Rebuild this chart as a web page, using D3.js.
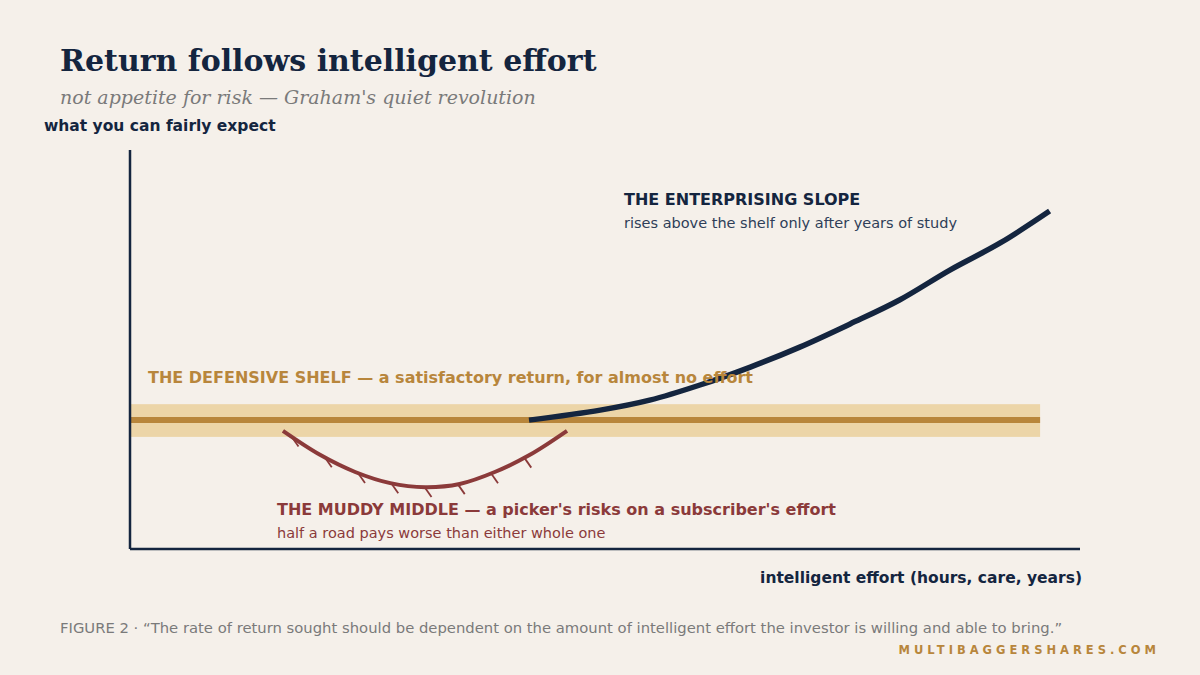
<!DOCTYPE html>
<html><head><meta charset="utf-8">
<script src="https://cdn.jsdelivr.net/npm/d3@7"></script>
<style>body{margin:0;background:#f5f0ea}</style>
</head><body>
<svg id="chart" width="1200" height="675"></svg>
<script>
// data (x: effort 0..10, y: return 0..10)
var shelfLevel = 3.23;
var shelfBand = [2.81, 3.63];
var shelfEnd = 9.58;
var muddyX = [1.61, 2.0, 2.37, 2.74, 3.11, 3.47, 3.84, 4.21, 4.6];
var muddyY = [2.96, 2.36, 1.93, 1.65, 1.55, 1.63, 1.93, 2.36, 2.96];
var slopeX = [4.2, 4.95, 5.47, 6.0, 6.53, 7.05, 7.58, 8.1, 8.63, 9.16, 9.68];
var slopeY = [3.23, 3.48, 3.73, 4.11, 4.56, 5.06, 5.64, 6.24, 6.99, 7.67, 8.47];
var hatchX = [1.7, 2.05, 2.4, 2.75, 3.1, 3.45, 3.8, 4.15];

var svg = d3.select("#chart");
var x = d3.scaleLinear().domain([0, 10]).range([130, 1080]);
var y = d3.scaleLinear().domain([0, 10]).range([549, 150]);
var sans = "DejaVu Sans", serif = "DejaVu Serif";

svg.append("rect").attr("width", 1200).attr("height", 675).attr("fill", "#f5f0ea");

svg.append("text").attr("x", 60).attr("y", 71).attr("font-family", serif).attr("font-weight", "bold")
	.attr("font-size", 30).attr("fill", "#14253f").text("Return follows intelligent effort");
svg.append("text").attr("x", 60).attr("y", 104).attr("font-family", serif).attr("font-style", "italic")
	.attr("font-size", 19).attr("fill", "#7a7a7a").text("not appetite for risk \u2014 Graham's quiet revolution");
svg.append("text").attr("x", 44).attr("y", 131).attr("font-family", sans).attr("font-weight", "bold")
	.attr("font-size", 15.5).attr("fill", "#14253f").text("what you can fairly expect");

// shelf
svg.append("rect").attr("x", x(0)).attr("width", x(shelfEnd) - x(0))
	.attr("y", y(shelfBand[1])).attr("height", y(shelfBand[0]) - y(shelfBand[1])).attr("fill", "#ecd5a8");
svg.append("line").attr("x1", x(0)).attr("x2", x(shelfEnd)).attr("y1", y(shelfLevel)).attr("y2", y(shelfLevel))
	.attr("stroke", "#b8863c").attr("stroke-width", 6);

// axes
svg.append("line").attr("x1", x(0)).attr("x2", x(0)).attr("y1", y(10)).attr("y2", y(0)).attr("stroke", "#14253f").attr("stroke-width", 2.5);
svg.append("line").attr("x1", x(0)).attr("x2", x(10)).attr("y1", y(0)).attr("y2", y(0)).attr("stroke", "#14253f").attr("stroke-width", 2.5);

// muddy middle
var muddy = muddyX.map(function(d, i) { return [d, muddyY[i]]; });
var curveLine = d3.line().x(function(d) { return x(d[0]); }).y(function(d) { return y(d[1]); }).curve(d3.curveCatmullRom);
svg.append("path").attr("d", curveLine(muddy)).attr("fill", "none").attr("stroke", "#8b3a3a").attr("stroke-width", 4);
var interpY = d3.scaleLinear().domain(muddyX).range(muddyY);
svg.selectAll(".hatch").data(hatchX).enter().append("line")
	.attr("x1", function(d) { return x(d); }).attr("y1", function(d) { return y(interpY(d)); })
	.attr("x2", function(d) { return x(d) + 7; }).attr("y2", function(d) { return y(interpY(d)) + 10; })
	.attr("stroke", "#8b3a3a").attr("stroke-width", 1.8);

// enterprising slope
var slope = slopeX.map(function(d, i) { return [d, slopeY[i]]; });
svg.append("path").attr("d", curveLine(slope)).attr("fill", "none").attr("stroke", "#14253f").attr("stroke-width", 5.5);

// annotations
svg.append("text").attr("x", 148).attr("y", 383).attr("font-family", sans).attr("font-weight", "bold")
	.attr("font-size", 16).attr("fill", "#b8863c").text("THE DEFENSIVE SHELF \u2014 a satisfactory return, for almost no effort");
svg.append("text").attr("x", 624).attr("y", 205).attr("font-family", sans).attr("font-weight", "bold")
	.attr("font-size", 16).attr("fill", "#14253f").text("THE ENTERPRISING SLOPE");
svg.append("text").attr("x", 624).attr("y", 228).attr("font-family", sans)
	.attr("font-size", 14.5).attr("fill", "#2e3e58").text("rises above the shelf only after years of study");
svg.append("text").attr("x", 277).attr("y", 515).attr("font-family", sans).attr("font-weight", "bold")
	.attr("font-size", 16).attr("fill", "#8b3a3a").text("THE MUDDY MIDDLE \u2014 a picker's risks on a subscriber's effort");
svg.append("text").attr("x", 277).attr("y", 538).attr("font-family", sans)
	.attr("font-size", 14.5).attr("fill", "#8b3a3a").text("half a road pays worse than either whole one");
svg.append("text").attr("x", 1082).attr("y", 583).attr("text-anchor", "end").attr("font-family", sans).attr("font-weight", "bold")
	.attr("font-size", 15.5).attr("fill", "#14253f").text("intelligent effort (hours, care, years)");

svg.append("text").attr("x", 60).attr("y", 633).attr("font-family", sans)
	.attr("font-size", 14.8).attr("fill", "#7a7a7a")
	.text("FIGURE 2 \u00b7 \u201cThe rate of return sought should be dependent on the amount of intelligent effort the investor is willing and able to bring.\u201d");
svg.append("text").attr("x", 1160).attr("y", 654).attr("text-anchor", "end").attr("font-family", sans).attr("font-weight", "bold")
	.attr("font-size", 11.5).attr("letter-spacing", 4).attr("fill", "#b8863c").text("MULTIBAGGERSHARES.COM");
</script>
</body></html>
